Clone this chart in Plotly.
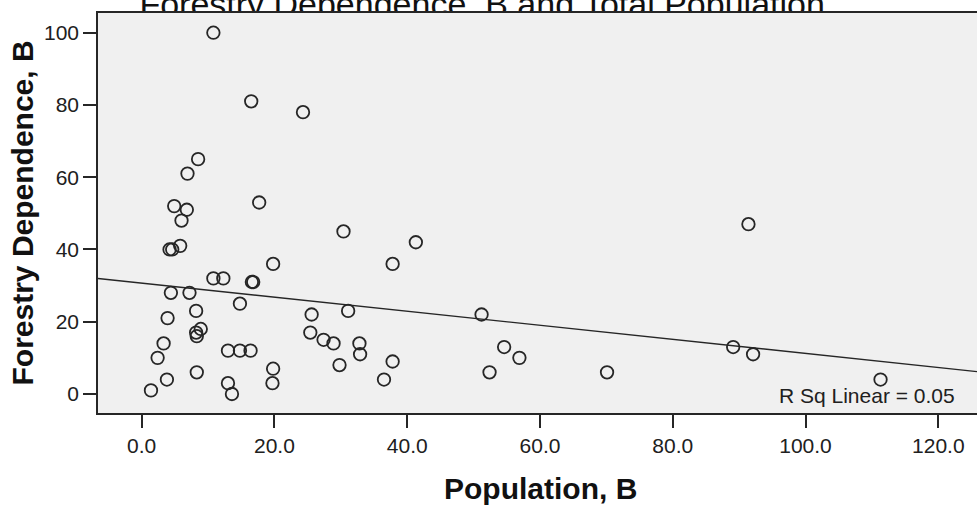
import numpy as np
import plotly.graph_objects as go

# Population (billions) and forestry dependence for each observation
population = [10.8, 16.5, 24.3, 8.5, 6.9, 17.7, 4.9, 6.8, 6.0, 30.4,
              41.3, 5.8, 4.2, 4.6, 19.8, 37.8, 10.8, 12.3, 16.6, 16.8,
              4.4, 7.2, 14.8, 8.2, 31.1, 3.9, 25.6, 51.2, 8.9, 8.2,
              8.3, 25.4, 27.4, 28.9, 32.8, 3.3, 54.6, 89.1, 13.0, 14.8,
              16.4, 32.9, 92.1, 2.4, 56.9, 37.8, 29.8, 19.8, 8.3, 52.4,
              70.1, 3.8, 36.5, 111.3, 13.0, 19.7, 1.4, 13.6, 91.4]
dependence = [100, 81, 78, 65, 61, 53, 52, 51, 48, 45,
              42, 41, 40, 40, 36, 36, 32, 32, 31, 31,
              28, 28, 25, 23, 23, 21, 22, 22, 18, 17,
              16, 17, 15, 14, 14, 14, 13, 13, 12, 12,
              12, 11, 11, 10, 10, 9, 8, 7, 6, 6,
              6, 4, 4, 4, 3, 3, 1, 0, 47]

x_ticks = [0, 20, 40, 60, 80, 100, 120]
x_ticklabels = ["0.0", "20.0", "40.0", "60.0", "80.0", "100.0", "120.0"]
y_ticks = [0, 20, 40, 60, 80, 100]
y_ticklabels = ["0", "20", "40", "60", "80", "100"]

chart_title = "Forestry Dependence, B and Total Population"
x_title = "Population, B"
y_title = "Forestry Dependence, B"
fit_label = "R Sq Linear = 0.05"

x_range = [-6.58, 125.83]
y_range = [-5.26, 105.45]

FONT = "Liberation Sans, Arial, sans-serif"
INK = "#262626"
PLOT_BG = "#F0F0F0"

# Least-squares linear fit across the full x extent
slope, intercept = np.polyfit(population, dependence, 1)
fit_x = np.array(x_range)
fit_y = intercept + slope * fit_x

fig = go.Figure()
fig.add_trace(go.Scatter(
    x=fit_x, y=fit_y, mode="lines",
    line=dict(color=INK, width=1.4),
    hoverinfo="skip", showlegend=False,
))
fig.add_trace(go.Scatter(
    x=population, y=dependence, mode="markers",
    marker=dict(symbol="circle-open", size=12.5, color=INK,
                line=dict(width=1.8)),
    showlegend=False,
))

axis_common = dict(
    showgrid=False, zeroline=False,
    showline=True, linecolor=INK, linewidth=1.5,
    ticks="outside", ticklen=13, tickwidth=1.5, tickcolor=INK,
    tickfont=dict(family=FONT, size=21, color="#202020"),
)

fig.update_layout(
    width=977, height=506,
    margin=dict(l=98, r=0, t=13, b=93),
    paper_bgcolor="white",
    plot_bgcolor=PLOT_BG,
    showlegend=False,
    xaxis=dict(range=x_range, tickvals=x_ticks, ticktext=x_ticklabels,
               mirror=True, **axis_common),
    yaxis=dict(range=y_range, tickvals=y_ticks, ticktext=y_ticklabels,
               **axis_common),
    shapes=[
        # chart title, drawn beneath the plot panel so only its lower part shows
        dict(type="line", xref="paper", yref="paper",
             x0=0.427, x1=0.447, y0=0.9828, y1=0.9828,
             line=dict(width=0, color="rgba(0,0,0,0)"), layer="below",
             label=dict(text=chart_title, textposition="middle",
                        yanchor="bottom", padding=0,
                        font=dict(family=FONT, size=34, color="#111111"))),
        dict(type="rect", xref="paper", yref="paper",
             x0=0, x1=1, y0=0, y1=1, fillcolor=PLOT_BG,
             line=dict(width=0), layer="below"),
    ],
    annotations=[
        dict(text=x_title, xref="paper", yref="paper", x=0.503, y=-0.1875,
             xanchor="center", yanchor="middle", showarrow=False,
             font=dict(family=FONT, size=30, color="#111111", weight="bold")),
        dict(text=y_title, xref="paper", yref="paper", x=-0.0859, y=0.5,
             xanchor="center", yanchor="middle", textangle=-90, showarrow=False,
             font=dict(family=FONT, size=30, color="#111111", weight="bold")),
        dict(text=fit_label, xref="paper", yref="paper", x=0.9772, y=0.045,
             xanchor="right", yanchor="middle", showarrow=False,
             font=dict(family=FONT, size=21, color="#202020")),
    ],
)

fig.write_html("out.html")
